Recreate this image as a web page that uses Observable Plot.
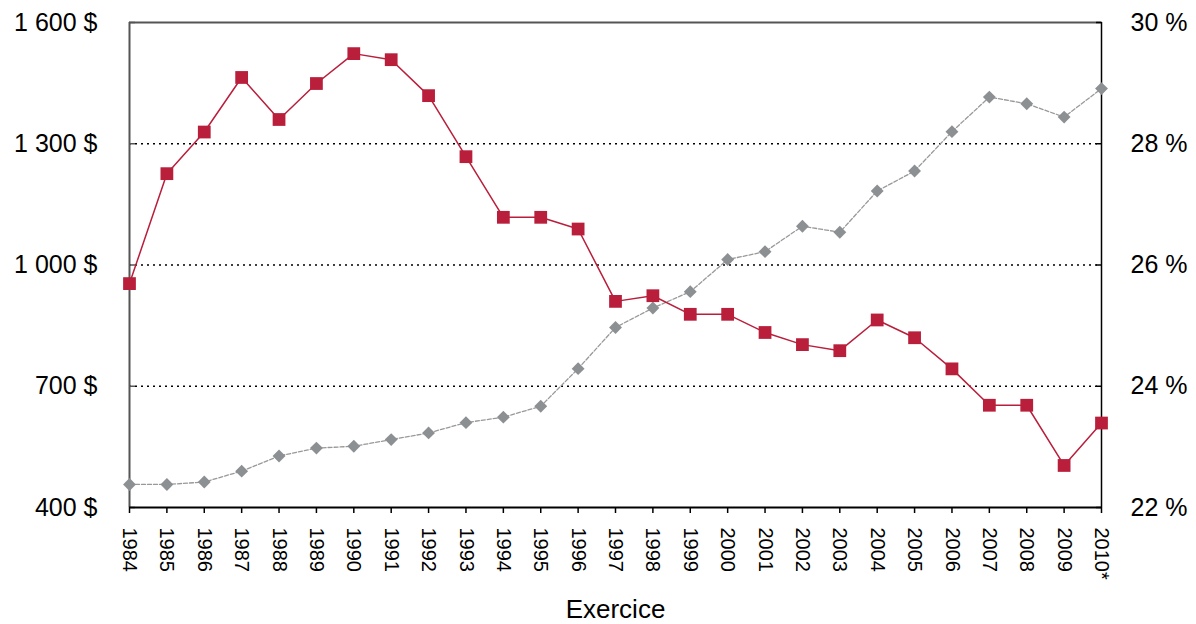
<!DOCTYPE html>
<html>
<head>
<meta charset="utf-8">
<script src="https://cdn.jsdelivr.net/npm/d3@7"></script>
<script src="https://cdn.jsdelivr.net/npm/@observablehq/plot@0.6"></script>
<style>
  html, body { margin: 0; padding: 0; background: #fff; }
  #chart { width: 1196px; height: 624px; }
</style>
</head>
<body>
<div id="chart"></div>
<script>
const years = ["1984","1985","1986","1987","1988","1989","1990","1991","1992","1993","1994","1995","1996","1997","1998","1999","2000","2001","2002","2003","2004","2005","2006","2007","2008","2009","2010*"];
const dollars = [954, 1226, 1329, 1464, 1360, 1449, 1523, 1508, 1419, 1268, 1118, 1118, 1089, 910, 924, 878, 878, 833, 803, 788, 864, 820, 743, 653, 653, 504, 609];
const percents = [22.38, 22.38, 22.42, 22.60, 22.85, 22.98, 23.01, 23.12, 23.23, 23.40, 23.49, 23.67, 24.29, 24.97, 25.29, 25.56, 26.09, 26.22, 26.64, 26.54, 27.22, 27.55, 28.20, 28.77, 28.66, 28.44, 28.91];
const leftTicks = [400, 700, 1000, 1300, 1600];
const rightTicks = [22, 24, 26, 28, 30];
const gridTicks = [700, 1000, 1300];
const xTitle = ["Exercice"];

// map percent (right axis) onto the dollar (left axis) scale
const pctToDollar = p => 400 + (p - 22) * (1200 / 8);

const data = years.map((y, i) => ({ year: y, dollars: dollars[i], pct: percents[i] }));

const red = "#B91E3B";
const grey = "#8C9093";
const font = "'Liberation Sans', Arial, sans-serif";

const chart = Plot.plot({
  width: 1196,
  height: 624,
  marginLeft: 129,
  marginRight: 95,
  marginTop: 22,
  marginBottom: 117,
  style: { fontFamily: font, color: "#000", background: "#fff" },
  x: { type: "point", domain: years, padding: 0, round: false },
  y: { domain: [400, 1600] },
  marks: [
    Plot.ruleY(gridTicks, { stroke: "#000", strokeWidth: 1.3, strokeDasharray: "2,4" }),
    Plot.ruleY([1600], { stroke: "#555", strokeWidth: 2 }),
    Plot.axisY({
      anchor: "left", ticks: leftTicks, tickSize: -6, tickPadding: 38, fontSize: 25,
      tickFormat: d => d3.format(",")(d).replace(",", "\u00a0") + "\u00a0$", label: null, stroke: "#555", strokeWidth: 1.5
    }),
    Plot.axisY({
      anchor: "right", ticks: leftTicks, tickSize: -6, tickPadding: 35, fontSize: 25,
      tickFormat: (d, i) => rightTicks[i] + "\u00a0%", label: null, strokeWidth: 1.5
    }),
    Plot.axisX({
      tickRotate: 90, tickSize: 6, tickPadding: 14, fontSize: 20, strokeWidth: 1.5, label: null
    }),
    Plot.text(xTitle, { text: d => d, frameAnchor: "bottom", dy: 102, lineAnchor: "middle", fontSize: 26, fill: "#000" }),
    Plot.ruleX([years[0]], { stroke: "#555", strokeWidth: 2 }),
    Plot.ruleX([years[years.length - 1]], { stroke: "#000", strokeWidth: 1.5 }),
    Plot.ruleY([400], { stroke: "#000", strokeWidth: 2 }),
    Plot.line(data, { x: "year", y: d => pctToDollar(d.pct), stroke: "#999", strokeWidth: 1.3, strokeDasharray: "4,2" }),
    Plot.dot(data, { x: "year", y: d => pctToDollar(d.pct), symbol: "diamond2", r: 5.8, fill: grey, stroke: "none" }),
    Plot.line(data, { x: "year", y: "dollars", stroke: red, strokeWidth: 1.5 }),
    Plot.dot(data, { x: "year", y: "dollars", symbol: "square", r: 7.2, fill: red, stroke: "none" })
  ]
});

chart.querySelectorAll("text").forEach(t => t.style.fontFamily = font);
document.getElementById("chart").appendChild(chart);
</script>
</body>
</html>
